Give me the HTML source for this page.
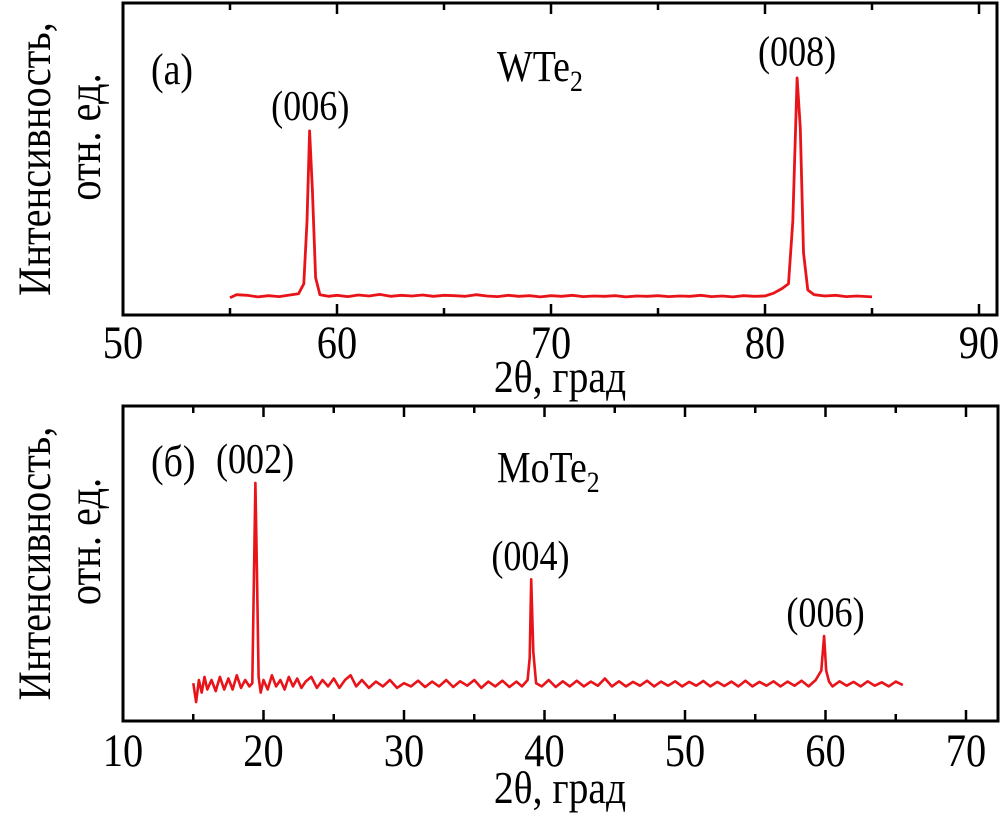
<!DOCTYPE html>
<html><head><meta charset="utf-8"><style>
html,body{margin:0;padding:0;background:#fff;}
svg{display:block;font-family:"Liberation Serif",serif;}
</style></head><body>
<svg id="chart" width="1004" height="817" viewBox="0 0 1004 817" xmlns="http://www.w3.org/2000/svg">
<g id="top"></g>
<g id="bot"></g>
</svg>
<script>
const topTicks = [50, 60, 70, 80, 90];
const topMinor = [55, 65, 75, 85];
const topX = [55,55.3,55.8,56.3,56.8,57.3,57.8,58.2,58.45,58.6,58.72,58.85,59.0,59.2,59.6,60,60.5,61,61.5,62,62.5,63,63.5,64,64.5,65,65.5,66,66.5,67,67.5,68,68.5,69,69.5,70,70.5,71,71.5,72,72.5,73,73.5,74,74.5,75,75.5,76,76.5,77,77.5,78,78.5,79,79.5,80,80.4,80.8,81.1,81.3,81.5,81.65,81.8,82,82.3,82.8,83.3,83.8,84.3,85];
const topY = [5.5,6.5,6.3,5.8,6.2,5.9,6.4,6.8,10,30,59,40,12,6.5,6.0,6.3,5.9,6.4,6.1,6.6,6.0,6.3,6.1,6.4,6.0,6.3,6.2,6.0,6.5,6.1,5.9,6.3,6.0,6.2,5.8,6.2,6.0,6.3,5.9,6.1,6.0,6.2,5.8,6.1,6.0,6.2,5.9,6.1,6.0,6.3,5.9,6.1,5.8,6.2,6.0,6.1,7.0,8.5,10,30,76,60,20,8,6.5,6.1,6.3,5.9,6.1,5.8];
const botTicks = [10, 20, 30, 40, 50, 60, 70];
const botMinor = [15, 25, 35, 45, 55, 65];
const botX = [15,15.2,15.4,15.6,15.8,16,16.3,16.6,16.9,17.2,17.5,17.8,18.1,18.4,18.7,19.0,19.2,19.32,19.42,19.52,19.65,19.8,20,20.3,20.6,20.9,21.2,21.5,21.8,22.1,22.4,22.7,23,23.4,23.8,24.2,24.6,25,25.4,25.8,26.2,26.6,27,27.5,28,28.5,29,29.5,30,30.5,31,31.5,32,32.5,33,33.5,34,34.5,35,35.5,36,36.5,37,37.5,38,38.4,38.8,38.95,39.05,39.2,39.4,39.8,40.3,40.8,41.3,41.8,42.3,42.8,43.3,43.8,44.3,44.8,45.3,45.8,46.3,46.8,47.3,47.8,48.3,48.8,49.3,49.8,50.3,50.8,51.3,51.8,52.3,52.8,53.3,53.8,54.3,54.8,55.3,55.8,56.3,56.8,57.3,57.8,58.3,58.8,59.3,59.7,59.9,60.05,60.25,60.5,61,61.5,62,62.5,63,63.5,64,64.5,65,65.5,66];
const botY = [12,6,13,9,14,10,13,9.5,14,10,13.5,10,14.5,10.5,13,11,12,45,75.6,50,14,9,13,10,14.5,11,13,10,14,11,13.5,10.5,12.5,14,10.5,13,11,13.5,10.5,13,14.5,11,13,10.5,12.5,11,13,10.5,12,11,12.8,10.8,12.5,11,13,10.8,12.6,11.2,13,10.5,12.5,11,12.8,10.8,12.5,11,13,20,45,22,12,11,13,10.8,12.6,11,12.8,11,12.5,11.2,13.5,11,12.6,11,12.4,11.2,12.8,11,12.5,11.2,12.6,11,12.4,11.2,12.7,11,12.4,11.1,12.5,11,12.8,11,12.4,11.2,12.6,11,12.5,11.2,12.8,11,13,16,27,16,12.5,11,12.6,11.2,12.4,11,12.6,11.2,12.3,11,12.5,11.4];
const labelsTop = [{t:'(006)',x:58.75,y:62.5},{t:'(008)',x:81.5,y:80}];
const labelsBot = [{t:'(002)',x:19.4,y:78.7},{t:'(004)',x:39.0,y:48},{t:'(006)',x:60.0,y:30}];

const NS='http://www.w3.org/2000/svg';
const SX=0.86;
function mk(tag, attrs, parent, txt){const e=document.createElementNS(NS,tag);for(const k in attrs)e.setAttribute(k,attrs[k]);if(txt!==undefined)e.textContent=txt;parent.appendChild(e);return e;}
function txt(parent, x, y, size, anchor, s){
  return mk('text',{x:0,y:0,'font-size':size,'text-anchor':anchor,transform:`translate(${x},${y}) scale(${SX},1)`},parent,s);
}

function panel(g, cfg){
  const sx=v=>cfg.L+(v-cfg.x0)*cfg.ppu;
  const sy=v=>cfg.B-(v/100)*(cfg.B-cfg.T);
  const frame=mk('rect',{x:cfg.L,y:cfg.T,width:cfg.R-cfg.L,height:cfg.B-cfg.T,fill:'none',stroke:'#000','stroke-width':3},g);
  
  
  cfg.ticks.forEach(v=>{
    const x=sx(v);
    const t1=mk('line',{x1:x,x2:x,y1:cfg.B,y2:cfg.B-11,stroke:'#000','stroke-width':2.5},g);
    
    
    const t2=mk('line',{x1:x,x2:x,y1:cfg.T,y2:cfg.T+11,stroke:'#000','stroke-width':2.5},g);
    
    
    const lb=txt(g,x,cfg.B+cfg.tickDy,47,'middle',String(v));
    
    
  });
  cfg.minor.forEach(v=>{
    const x=sx(v);
    const t1=mk('line',{x1:x,x2:x,y1:cfg.B,y2:cfg.B-7,stroke:'#000','stroke-width':2.5},g);
    
    
    const t2=mk('line',{x1:x,x2:x,y1:cfg.T,y2:cfg.T+7,stroke:'#000','stroke-width':2.5},g);
    
    
  });
  const d=cfg.xs.map((v,i)=>(i?'L':'M')+sx(v).toFixed(1)+','+sy(cfg.ys[i]).toFixed(1)).join(' ');
  const p=mk('path',{d:d,fill:'none',stroke:'#e8141a','stroke-width':cfg.sw,'stroke-linejoin':'round'},g);
  
  
  cfg.labels.forEach(l=>{
    const t=txt(g,sx(l.x),sy(l.y),42,'middle',l.t);
    
    
  });
  const xt=txt(g,560,cfg.B+cfg.titleDy,46,'middle','2θ, град');
  
  
  const cy=(cfg.T+cfg.B)/2;
  const y1=mk('text',{x:0,y:0,'font-size':47,'text-anchor':'middle',transform:`translate(50,${cy}) rotate(-90) scale(${SX},1)`},g,'Интенсивность,');
  
  
  const y2=mk('text',{x:0,y:0,'font-size':47,'text-anchor':'middle',transform:`translate(100,${cy-22}) rotate(-90) scale(${SX},1)`},g,'отн. ед.');
  
  
  const pl=txt(g,cfg.L+28,cfg.T+cfg.tagY,44,'start',cfg.tag);
  
  
  const mt=txt(g,497,cfg.T+cfg.matY,44,'start',cfg.mat);
  
  
  mk('tspan',{'font-size':30,dy:10},mt,'2');
}
panel(document.getElementById('top'),{L:123,R:997,T:3,B:315,x0:50,ppu:21.4,ticks:topTicks,minor:topMinor,xs:topX,ys:topY,labels:labelsTop,tag:'(a)',tagY:81,mat:'WTe',matY:78,sw:2.8,tickDy:43,titleDy:77});
panel(document.getElementById('bot'),{L:123,R:998,T:406,B:721,x0:10,ppu:14.05,ticks:botTicks,minor:botMinor,xs:botX,ys:botY,labels:labelsBot,tag:'(б)',tagY:70,mat:'MoTe',matY:76,sw:2.6,tickDy:45,titleDy:82});
</script>
</body></html>
